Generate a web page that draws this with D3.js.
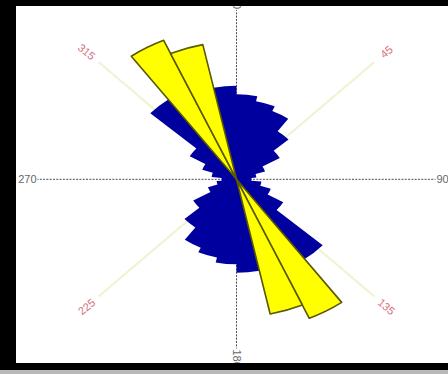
<!DOCTYPE html>
<html>
<head>
<meta charset="utf-8">
<script src="https://cdn.jsdelivr.net/npm/d3@7"></script>
<style>
  html, body { margin: 0; padding: 0; background: #fff; }
  svg { display: block; font-family: "Liberation Sans", Arial, sans-serif; }
</style>
</head>
<body>
<div id="rose"></div>
<script>
// axial rose: 12 degree bins, each drawn at a and a+180
let blueBins = [0, 12, 24, 36, 48, 60, 72, 84, 96, 108, 120, 132, 144, 156, 168];
let blueValues = [100, 94, 88, 70, 50, 30, 20, 15, 25, 36, 54, 116, 122, 116, 110];
let yellowBins = [144, 156];
let yellowValues = [179, 162];
let axisTicks = [0, 90, 180, 270];
let diagTicks = [45, 135, 225, 315];

let width = 448;
let height = 374;
let cx = 236.5, cy = 179.3;
let squash = 0.85;   // picture is flattened vertically
let R = 199;
let binWidth = 12;

let r = d3.scaleLinear().domain([0, 199]).range([0, R]);
let ang = d3.scaleLinear().domain([0, 360]).range([0, 2 * Math.PI]);

// position on the flattened plane
let px = (deg, rad) => cx + rad * Math.sin(ang(deg));
let py = (deg, rad) => cy - rad * Math.cos(ang(deg)) * squash;

let svg = d3.select("#rose")
    .append("svg")
    .attr("width", width)
    .attr("height", height)
    .attr("viewBox", [0, 0, width, height]);

svg.append("rect").attr("width", width).attr("height", height).attr("fill", "#fff");

// light diagonal spokes
svg.append("g")
    .selectAll("line")
    .data(diagTicks)
    .join("line")
    .attr("x1", cx).attr("y1", cy)
    .attr("x2", d => px(d, 195)).attr("y2", d => py(d, 195))
    .attr("stroke", "#eef4cf")
    .attr("stroke-width", 2);

// dotted main axes
svg.append("g")
    .selectAll("line")
    .data(axisTicks)
    .join("line")
    .attr("x1", cx).attr("y1", cy)
    .attr("x2", d => px(d, R)).attr("y2", d => py(d, R))
    .attr("stroke", "#4a4a60")
    .attr("stroke-width", 1)
    .attr("stroke-dasharray", "2,1.3");

let arc = d3.arc().innerRadius(0);

let plot = svg.append("g")
    .attr("transform", `translate(${cx},${cy}) scale(1,${squash})`);

let blue = blueBins.flatMap((b, i) => [
    {a: b, v: blueValues[i]},
    {a: b + 180, v: blueValues[i]}
]).sort((p, q) => p.a - q.a);

// walk round the whole rose as one outline, so no seams show between wedges
let outline = d3.path();
outline.moveTo(0, 0);
blue.forEach(d => {
    outline.arc(0, 0, r(d.v), ang(d.a) - Math.PI / 2, ang(d.a + binWidth) - Math.PI / 2);
});
outline.closePath();

plot.append("path")
    .attr("d", outline.toString())
    .attr("fill", "#00009e");

let yellow = yellowBins.flatMap((b, i) => [
    {a: b, v: yellowValues[i]},
    {a: b + 180, v: yellowValues[i]}
]);

plot.append("g")
    .selectAll("path")
    .data(yellow)
    .join("path")
    .attr("d", d => arc({
        outerRadius: r(d.v),
        startAngle: ang(d.a),
        endAngle: ang(d.a + binWidth)
    }))
    .attr("fill", "#ffff00")
    .attr("stroke", "#5a5800")
    .attr("stroke-width", 1.6)
    .attr("stroke-linejoin", "round")
    .attr("vector-effect", "non-scaling-stroke");

// axis labels
let labels = svg.append("g").attr("font-size", 11).attr("fill", "#666");
labels.append("text")
    .attr("x", px(270, R) - 1).attr("y", cy).attr("dy", "0.35em")
    .attr("text-anchor", "end").text("270");
labels.append("text")
    .attr("x", px(90, R) + 1).attr("y", cy).attr("dy", "0.35em")
    .attr("text-anchor", "start").text("90");
labels.append("text")
    .attr("transform", `translate(${cx},${py(180, R) + 1}) rotate(90)`)
    .attr("dy", "0.35em").attr("text-anchor", "start").text("180");
labels.append("text")
    .attr("transform", `translate(${cx},${py(0, R) - 1}) rotate(90)`)
    .attr("dy", "0.35em").attr("text-anchor", "end").text("0");

svg.append("g")
    .attr("font-size", 11)
    .attr("fill", "#d5707c")
    .selectAll("text")
    .data(diagTicks)
    .join("text")
    .attr("transform", d => `translate(${px(d, 212)},${py(d, 212)}) rotate(${d === 45 || d === 225 ? -40 : 40})`)
    .attr("dy", "0.35em")
    .attr("text-anchor", "middle")
    .text(d => d);

// photo frame
svg.append("rect").attr("x", 0).attr("y", 0).attr("width", width).attr("height", 6).attr("fill", "#000");
svg.append("rect").attr("x", 0).attr("y", 0).attr("width", 16).attr("height", 370).attr("fill", "#000");
svg.append("rect").attr("x", 0).attr("y", 363).attr("width", width).attr("height", 7).attr("fill", "#000");
svg.append("rect").attr("x", 0).attr("y", 370).attr("width", width).attr("height", 4).attr("fill", "#b8b8b8");
</script>
</body>
</html>
